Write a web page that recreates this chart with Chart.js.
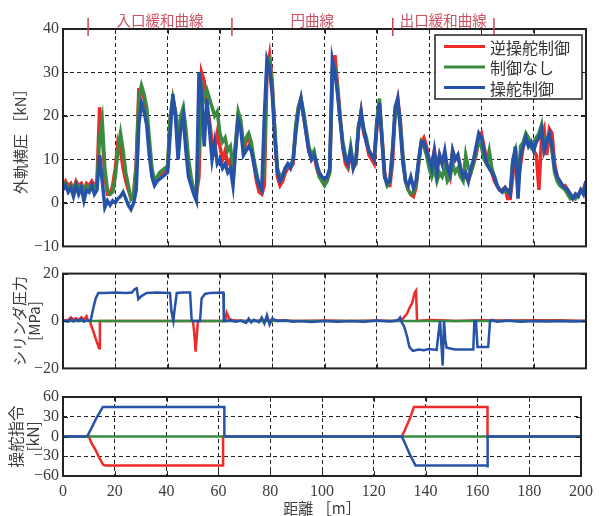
<!DOCTYPE html>
<html>
<head>
<meta charset="utf-8">
<script src="https://cdn.jsdelivr.net/npm/chart.js@4.4.1/dist/chart.umd.min.js"></script>
<style>
  body { margin: 0; background: #fff; }
  #wrap { position: relative; width: 599px; height: 516px; overflow: hidden; }
  canvas { position: absolute; left: 0; }
</style>
</head>
<body>
<div id="wrap">
  <canvas id="c1" width="599" height="260" style="top:0px"></canvas>
  <canvas id="c2" width="599" height="122" style="top:260px"></canvas>
  <canvas id="c3" width="599" height="134" style="top:382px"></canvas>
</div>
<script>
// series names (legend order)
const seriesNames = ['逆操舵制御', '制御なし', '操舵制御'];
const seriesColors = ['#ee2a2a', '#3a8a40', '#2652a8'];

// curve sections along the track [m]
const sectionEdges = [9.6, 64.6, 126.1, 164.8];
const sectionNames = ['入口緩和曲線', '円曲線', '出口緩和曲線'];

// top panel: outer rail lateral force [kN], one sample per metre (0..200 m)
const STEP = 1;
const pressRed = [
  4,5,4,4.5,3,5,4,4.5,3,4.5,
  4,5,4,5,22,16,6,2,2,4,
  8,14,12,8,5,3,1,2,9,26,
  26,24,20,13,7,5,6,6.5,7,7.5,
  8,19,24,21,13,18,19,14,8,5,
  3,2,6,30,28,22,19,14,12,16,
  13,10,12,9,10,5,13,20,18,12,
  14,15,13,9,5,2.5,2,4,30,34,
  28,16,6,4,5,7,8,8,9,17,
  22,24,20,16,12,10,11,8,6,5.5,
  5,5.5,7,28,34,27,20,13,9,8,
  12,8,9,17,21,16,14,11,10,9,
  17,23,15,7,4,4,9,21,24,19,
  10,5,3,2,1.5,3.5,9,14,15,13,
  10,9,12,8,11,9,11,8,6,12,
  10,11,8,6,6,5,7,9,11,15,
  16,13,10,8,7,5,4,3,3,3.5,
  1,1,6,12,5,9,13,15,14,13,
  12,11,3,15,17,11,17,16,9,6,
  5,4,4,3,2,1,2,1.5,3,3,
  5
];
const pressGreen = [
  3.5,4.5,3,4,3,4.5,3.5,4,3,4,
  3.5,4,3.5,4.5,15,19,8,3,2,2.5,
  6,12,16,12,7,4,1,2,8,24,
  27,25,22,15,8,5,6,7,7.5,8,
  8.5,20,24,21,15,20,22,17,10,6,
  3,2,12,27,24,26,24,22,20,21,
  16,14,15,12,13,8,14,21,19,13,
  15,16,14,10,7,4,3,10,32,33,
  27,17,8,6,6.5,8,9,8.5,10,18,
  22,24,21,17,13,11,12,9,6,5,
  4,5,7,31,31,26,19,14,11,9,
  13,9,9,18,20,17,15,12,11,10,
  19,24,15,6,4,5,12,20,23,18,
  11,5,3,2,2.5,4,9,14,13,11,
  8,6,8,5,7,6,8,5,6,9,
  7,8,6,5,11,8,7,9,12,14,
  13,10,9,12,8,6,4,3,2.5,3,
  2.5,2,10,12,3,13,14,16,15,13,
  14,15,16,18,13,15,15,12,7,5,
  4,3.5,3,2,1,1.5,1,2,2.5,3,
  4
];
const pressBlue = [
  3,4,2.5,3.5,1.5,4,2,3.5,0.5,3,
  2.5,4,2,3,11,5,-1,0.5,-0.5,0.5,
  0,1,1.5,2.5,1,-0.5,-1.5,0,3,18,
  23,21,18,11,6,4,5,5.5,6,6.5,
  7,16,25,20,10,17,20,12,6,4,
  2,0.5,30,25,13,24,17,10,14,9,
  10,8,9,7,8,4,12,19,17,11,
  12,13,12,9,6,4,3,20,33,31,
  25,15,7,5,6,8,9,8,10,16,
  21,24,20,16,12,10,11,9,7,6,
  5.5,6,8,33,30,25,19,13,10,9,
  12,8,10,17,21,17,14,12,11,10,
  18,23,14,6,4.5,5,12,22,24,17,
  9,5,4,6,3.5,5,10,14,14,12,
  10,8,12,7,11,9,12,8,6.5,12,
  10,11,8,6,7,5,8,10,13,16,
  15,12,9,8,7,6,4,3,2.5,3.5,
  3,2,9,13,1,11,13,15,13,14,
  12,14,15,17,12,14,16,13,8,6,
  5,4,3.5,3,2,1,2,1.5,3,2,
  5
];

// middle panel: cylinder pressure [MPa], [distance, value]
const cylRed = [
  [0,0],[2,0.5],[3,1.5],[4,0.6],[5,1.2],[6,0.4],[7,1.6],[8,0.5],[9,2],[9.5,0.3],
  [10.3,0],[10.8,-2],[11.5,-4],[12.2,-6.5],[13,-9],[13.8,-11.5],[14.1,0],[30,0],
  [49.7,0],[50.2,-5],[50.7,-12.9],[51.2,-6],[51.6,0],[62,0],[62.6,3.5],[63.5,1],
  [65,0.3],[70,0],[80,0.3],[90,0],[100,0.2],[110,0],[120,0.2],[127,0],[128.5,0.6],
  [130,1],[131.5,3],[132.5,5.5],[133.5,7.5],[134.5,12],[135,12.8],[135.4,0],
  [140,0.4],[145,0.3],[150,0],[160,0.3],[170,0.2],[180,0.3],[190,0.3],[200,0]
];
const cylGreen = [[0,0],[200,0]];
const cylBlue = [
  [0,0.3],[2,-0.3],[3,0.8],[4,-0.2],[5,0.5],[6,0],[7,0.9],[8,-0.3],[9,0.4],[10,0],
  [10.6,0.3],[11.5,5],[12.5,9.5],[13.5,11.8],[16,11.8],[20,12],[24,11.8],[26.3,12],
  [27.5,13.5],[28.2,13.8],[28.8,9.2],[30,10.5],[32,11.8],[36,12],[40.9,11.8],
  [41.5,4],[42.2,0],[42.8,6],[43.5,11.8],[46,12],[48.6,12],[49.2,0.5],[49.6,0],
  [52.4,0],[53,9.5],[54.3,11.4],[56,11.8],[61.3,12],[61.5,0],[64,0.3],[66,-0.3],
  [68,0.2],[70,-0.8],[71,1],[72,-0.6],[73,0.5],[75,-0.5],[76,1.5],[77,-1],[78,2.5],
  [79,-1.5],[80,1],[82,0],[85,0.3],[88,-0.3],[90,0],[95,-0.4],[100,0],[105,-0.3],
  [110,0],[115,-0.3],[120,0.2],[125,-0.2],[128,0.3],[128.9,1.5],[129.5,-0.5],
  [130.5,-2.4],[131.5,-6.3],[132.5,-11],[133.8,-12.6],[136,-12],[138,-12.3],
  [140,-11.8],[142.9,-12.2],[143.5,-6],[144.2,0],[144.7,-10],[145.2,-18.8],
  [145.7,0],[146.2,-8],[146.7,-11.3],[150,-12],[156.9,-12],[157.3,0],[157.9,0],
  [158.5,-11],[162.6,-11],[163.3,0],[164,0.5],[166,-0.3],[170,0.2],[175,-0.3],
  [180,0],[185,-0.2],[190,0],[195,-0.2],[200,0]
];

// bottom panel: steering command [kN], [distance, value]
const cmdRed = [
  [0,0],[10,0],[11,-10],[12.5,-20],[14,-32],[15.5,-43],[16.3,-44],[61.8,-44],
  [61.8,0],[130.8,0],[132,10],[134,28],[135.5,45],[163.9,45],[163.9,0],[200,0]
];
const cmdGreen = [[0,0],[200,0]];
const cmdBlue = [
  [0,0],[9.3,0],[11,12.7],[12.9,28],[15.4,45],[16.5,45],[62.3,45],[62.3,0],
  [130.8,0],[132,-10],[134,-28],[136.1,-44],[163.9,-44],[163.9,-47],[164,0],[200,0]
];

const X_TICKS = { min: 0, max: 200, step: 20 };

const serifFont = 'Liberation Serif';
const jpFont = '"Noto Sans CJK JP"';
const textColor = '#3c3c3c';

// box + inward tick marks like the original plot
const framePlugin = {
  id: 'frame',
  afterDatasetsDraw(chart) {
    const { ctx, chartArea: a, scales } = chart;
    ctx.save();
    ctx.strokeStyle = '#222';
    ctx.lineWidth = 1;
    ctx.beginPath();
    scales.x.ticks.forEach(t => {
      const px = Math.round(scales.x.getPixelForValue(t.value)) + 0.5;
      ctx.moveTo(px, a.bottom); ctx.lineTo(px, a.bottom - 5);
      ctx.moveTo(px, a.top); ctx.lineTo(px, a.top + 5);
    });
    scales.y.ticks.forEach(t => {
      const py = Math.round(scales.y.getPixelForValue(t.value)) + 0.5;
      ctx.moveTo(a.left, py); ctx.lineTo(a.left + 5, py);
      ctx.moveTo(a.right, py); ctx.lineTo(a.right - 5, py);
    });
    ctx.stroke();
    ctx.lineWidth = 2;
    ctx.strokeRect(a.left, a.top, a.right - a.left, a.bottom - a.top);
    ctx.restore();
  }
};

// section marks above the top panel + legend box
const topDecor = {
  id: 'topDecor',
  afterDraw(chart) {
    const { ctx, scales: { x } } = chart;
    ctx.save();
    ctx.strokeStyle = '#c8464f';
    ctx.lineWidth = 1.5;
    sectionEdges.forEach(d => {
      const px = x.getPixelForValue(d);
      ctx.beginPath();
      ctx.moveTo(px, 18);
      ctx.lineTo(px, 36);
      ctx.stroke();
    });
    ctx.fillStyle = '#cc5060';
    ctx.font = '14.5px ' + jpFont;
    ctx.textAlign = 'center';
    ctx.textBaseline = 'middle';
    sectionNames.forEach((name, i) => {
      const mid = (x.getPixelForValue(sectionEdges[i]) + x.getPixelForValue(sectionEdges[i + 1])) / 2;
      ctx.fillText(name, mid, 20);
    });

    // legend
    const lx = 435, ly = 35, lw = 147, lh = 64;
    ctx.fillStyle = '#fff';
    ctx.fillRect(lx, ly, lw, lh);
    ctx.strokeStyle = '#222';
    ctx.lineWidth = 1.5;
    ctx.strokeRect(lx, ly, lw, lh);
    ctx.font = '16px ' + jpFont;
    ctx.textAlign = 'left';
    seriesNames.forEach((name, i) => {
      const yy = 46.5 + i * 20.5;
      ctx.strokeStyle = seriesColors[i];
      ctx.lineWidth = 3;
      ctx.beginPath();
      ctx.moveTo(444, yy);
      ctx.lineTo(485, yy);
      ctx.stroke();
      ctx.fillStyle = '#333';
      ctx.fillText(name, 490, yy + 1);
    });
    ctx.restore();
  }
};

function lineSet(i, points, width) {
  return {
    label: seriesNames[i],
    data: points,
    borderColor: seriesColors[i],
    borderWidth: width,
    pointRadius: 0,
    tension: 0,
    fill: false,
    order: 3 - i // blue drawn on top, red at the bottom
  };
}

const pairs = arr => arr.map(p => ({ x: p[0], y: p[1] }));
const sampled = arr => arr.map((v, i) => ({ x: i * STEP, y: v }));

function makeChart(id, datasets, yOpts, bottomAxis, padding) {
  const gridOpts = { color: '#222', lineWidth: 1, drawTicks: false };
  return new Chart(document.getElementById(id), {
    type: 'line',
    data: { datasets },
    options: {
      responsive: false,
      devicePixelRatio: 1,
      animation: false,
      layout: { padding },
      plugins: { legend: { display: false }, tooltip: { enabled: false } },
      scales: {
        x: {
          type: 'linear',
          min: X_TICKS.min,
          max: X_TICKS.max,
          grid: gridOpts,
          border: { display: false, dash: [4, 3] },
          ticks: {
            display: bottomAxis,
            autoSkip: false,
            stepSize: X_TICKS.step,
            padding: 6,
            color: textColor,
            font: { family: serifFont, size: 16 }
          },
          title: {
            display: bottomAxis,
            text: '距離 ［m］',
            color: textColor,
            font: { family: jpFont, size: 15, lineHeight: 1 },
            padding: { top: 0, bottom: 0 }
          },
          afterFit: s => { s.height = bottomAxis ? 40 : 0; }
        },
        y: {
          min: yOpts.min,
          max: yOpts.max,
          grid: gridOpts,
          border: { display: false, dash: [4, 3] },
          ticks: {
            autoSkip: false,
            stepSize: yOpts.step,
            padding: 4,
            color: textColor,
            font: { family: serifFont, size: 16 },
            callback: v => (v < 0 ? '\u2212' + Math.abs(v) : String(v))
          },
          title: {
            display: true,
            text: yOpts.title,
            color: textColor,
            font: { family: jpFont, size: yOpts.titleSize, lineHeight: yOpts.lineHeight },
            padding: { top: yOpts.titlePad, bottom: 0 }
          },
          afterFit: s => { s.width = 63; }
        }
      }
    },
    plugins: id === 'c1' ? [framePlugin, topDecor] : [framePlugin]
  });
}

makeChart('c1', [
  lineSet(0, sampled(pressRed), 3.5),
  lineSet(1, sampled(pressGreen), 3.5),
  lineSet(2, sampled(pressBlue), 3.5)
], { min: -10, max: 40, step: 10, title: '外軌横圧 ［kN］', titleSize: 15, lineHeight: 1.2, titlePad: 11 },
  false, { left: 0, right: 13, top: 29, bottom: 13 });

makeChart('c2', [
  lineSet(0, pairs(cylRed), 2.5),
  lineSet(1, pairs(cylGreen), 2.5),
  lineSet(2, pairs(cylBlue), 2.5)
], { min: -20, max: 20, step: 20, title: ['シリンダ圧力', '[MPa]'], titleSize: 15, lineHeight: 1.05, titlePad: 11 },
  false, { left: 0, right: 13, top: 10, bottom: 10 });

makeChart('c3', [
  lineSet(0, pairs(cmdRed), 2.5),
  lineSet(1, pairs(cmdGreen), 2.5),
  lineSet(2, pairs(cmdBlue), 2.5)
], { min: -60, max: 60, step: 30, title: ['操舵指令', '[kN]'], titleSize: 15.5, lineHeight: 1.1, titlePad: 8 },
  true, { left: 0, right: 13, top: 15, bottom: 0 });
</script>
</body>
</html>
